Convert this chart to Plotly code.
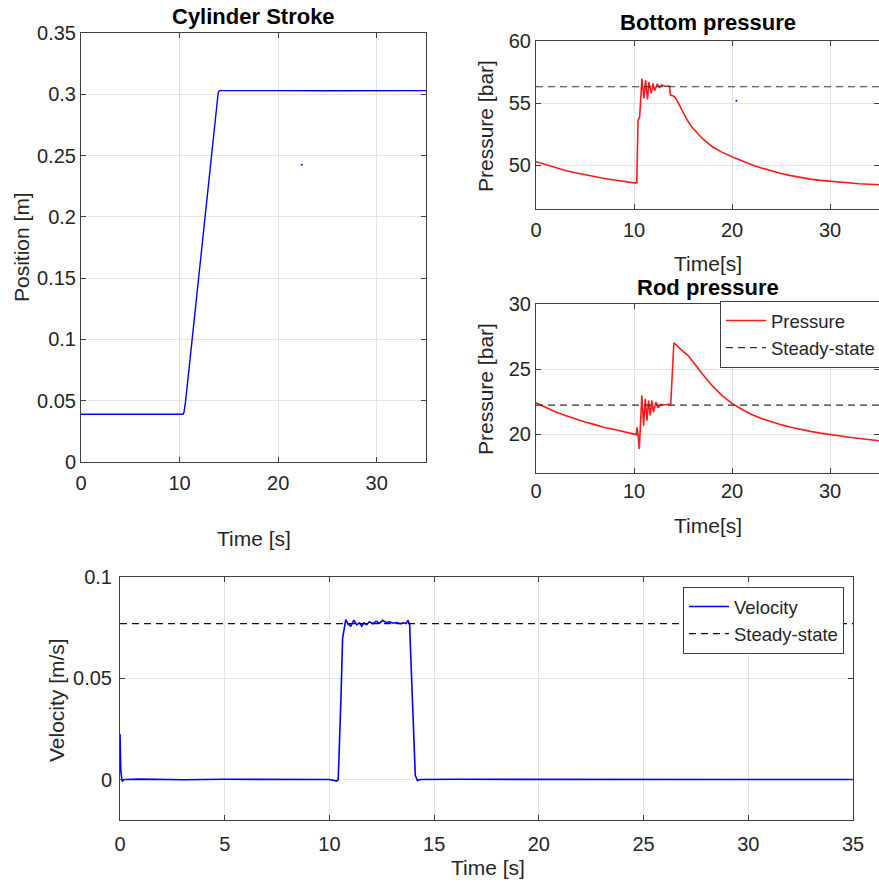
import plotly.graph_objects as go

W, H = 879, 891

# ---------------- data ----------------
# Cylinder stroke (position)
pos_t = [0, 2, 4, 6, 8, 10, 10.35, 10.45, 10.6, 11.0, 12.0, 13.0, 13.6, 13.8, 13.92, 14.05, 16, 20, 25, 30, 35]
pos_m = [0.039, 0.0388, 0.039, 0.0389, 0.039, 0.0389, 0.039, 0.0405, 0.049, 0.079, 0.156, 0.232, 0.2785,
         0.2945, 0.3015, 0.303, 0.3028, 0.303, 0.3029, 0.303, 0.303]
pos_stray_t = [22.4]
pos_stray_m = [0.2425]

# Bottom pressure
pb_t = [0, 1, 2, 3, 4, 5, 6, 7, 8, 9, 10.0, 10.28, 10.41, 10.58, 10.81, 11.01, 11.18, 11.38, 11.52, 11.76,
        11.93, 12.1, 12.37, 12.6, 12.84, 13.2, 13.62, 13.72, 14.06, 14.3, 14.6, 15.0, 15.5, 16.0, 16.5, 17.0,
        18.0, 19.0, 20.0, 21.0, 22.0, 23.0, 24.0, 25.0, 26.0, 27.0, 28.0, 29.0, 30.0, 31.0, 32.0, 33.0, 34.0, 35.0]
pb_p = [50.3, 50.05, 49.82, 49.6, 49.42, 49.25, 49.1, 48.95, 48.83, 48.7, 48.6, 48.6, 53.6, 53.9, 56.99, 55.38,
        56.85, 55.3, 56.7, 55.8, 56.6, 56.0, 56.55, 56.27, 56.47, 56.35, 56.38, 55.65, 55.57, 55.35, 54.9, 54.25,
        53.55, 53.0, 52.55, 52.15, 51.5, 51.05, 50.7, 50.35, 50.05, 49.8, 49.55, 49.35, 49.18, 49.03, 48.9, 48.8,
        48.72, 48.65, 48.58, 48.53, 48.49, 48.45]
pb_steady = 56.32
pb_stray_t = [20.45]
pb_stray_p = [55.2]

# Rod pressure
pr_t = [0, 1, 2, 3, 4, 5, 6, 7, 8, 9, 10.24, 10.3, 10.44, 10.54, 10.64, 10.8, 10.98, 11.15, 11.32, 11.49, 11.66,
        11.82, 11.99, 12.23, 12.46, 12.73, 13.2, 13.58, 13.75, 14.07, 14.6, 15.0, 15.5, 16.0, 16.5, 17.0, 17.5,
        18.0, 19.0, 20.0, 21.0, 22.0, 23.0, 24.0, 25.0, 26.0, 27.0, 28.0, 29.0, 30.0, 31.0, 32.0, 33.0, 34.0, 35.0]
pr_p = [22.4, 22.02, 21.7, 21.42, 21.16, 20.93, 20.72, 20.5, 20.35, 20.15, 19.95, 20.51, 19.8, 18.84, 20.78,
        22.97, 20.64, 22.71, 21.03, 22.58, 21.42, 22.58, 21.68, 22.45, 22.01, 22.27, 22.25, 22.32, 22.3, 27.02,
        26.6, 26.35, 26.05, 25.6, 25.1, 24.6, 24.15, 23.7, 22.95, 22.35, 21.9, 21.5, 21.2, 20.95, 20.72, 20.52,
        20.35, 20.2, 20.07, 19.95, 19.85, 19.75, 19.65, 19.56, 19.48]
pr_steady = 22.22

# Velocity
vel_t = [0, 0.04, 0.1, 0.2, 1, 3, 5, 7, 9, 10.0, 10.35, 10.42, 10.55, 10.63, 10.7, 10.78, 10.9, 11.02, 11.17,
         11.3, 11.43, 11.54, 11.65, 11.78, 11.91, 12.07, 12.23, 12.39, 12.55, 12.71, 12.87, 13.06, 13.22,
         13.38, 13.54, 13.67, 13.75, 13.83, 13.88, 14.0, 14.1, 14.2, 14.35, 16, 20, 25, 30, 35]
vel_v = [0.0225, 0.004, -0.001, 0.0, 0.0002, -0.0001, 0.0001, 0.0, 0.0001, 0.0, -0.0008, 0.0, 0.04, 0.07, 0.074,
         0.079, 0.0766, 0.0758, 0.0787, 0.0764, 0.0774, 0.0758, 0.0774, 0.0764, 0.0779, 0.0769, 0.0782,
         0.0772, 0.0786, 0.0775, 0.0779, 0.0772, 0.0775, 0.0769, 0.0774, 0.077, 0.0786, 0.0766, 0.062,
         0.03, 0.002, -0.0005, 0.0, 0.0001, 0.0, 0.0001, 0.0, 0.0]
vel_steady = 0.077

t_span = [0, 35]

# tick labels
stroke_ticks = [0, 0.05, 0.1, 0.15, 0.2, 0.25, 0.3, 0.35]
stroke_ticktext = ["0", "0.05", "0.1", "0.15", "0.2", "0.25", "0.3", "0.35"]
p_top_ticks = [50, 55, 60]
p_rod_ticks = [20, 25, 30]
vel_ticks = [0, 0.05, 0.1]
vel_ticktext = ["0", "0.05", "0.1"]
t_ticks_top = [0, 10, 20, 30]
t_ticks_bottom = [0, 5, 10, 15, 20, 25, 30, 35]

# ---------------- style ----------------
FONT = "Liberation Sans, Arial, sans-serif"
TXT = "#262626"
AX = "#404040"
GRID = "#e3e3e3"
RED = "#ff1a1a"
BLUE = "#0000ff"
DASH = "7px,5px"


def px_x(p):
    return p / W


def px_y(p):
    return 1 - p / H


fig = go.Figure()

# Stroke
fig.add_trace(go.Scatter(x=pos_t, y=pos_m, mode="lines", line=dict(color=BLUE, width=1.4),
                         xaxis="x", yaxis="y", showlegend=False))
fig.add_trace(go.Scatter(x=pos_stray_t, y=pos_stray_m, mode="markers", marker=dict(color=BLUE, size=2),
                         xaxis="x", yaxis="y", showlegend=False))

# Bottom pressure
fig.add_trace(go.Scatter(x=pb_t, y=pb_p, mode="lines", line=dict(color=RED, width=1.6),
                         xaxis="x2", yaxis="y2", showlegend=False))
fig.add_trace(go.Scatter(x=t_span, y=[pb_steady, pb_steady], mode="lines",
                         line=dict(color="#333333", width=1.1, dash=DASH),
                         xaxis="x2", yaxis="y2", showlegend=False))
fig.add_trace(go.Scatter(x=pb_stray_t, y=pb_stray_p, mode="markers", marker=dict(color=BLUE, size=2),
                         xaxis="x2", yaxis="y2", showlegend=False))

# Rod pressure
fig.add_trace(go.Scatter(x=pr_t, y=pr_p, mode="lines", name="Pressure", line=dict(color=RED, width=1.6),
                         xaxis="x3", yaxis="y3", legend="legend"))
fig.add_trace(go.Scatter(x=t_span, y=[pr_steady, pr_steady], mode="lines", name="Steady-state",
                         line=dict(color="#333333", width=1.1, dash=DASH),
                         xaxis="x3", yaxis="y3", legend="legend"))

# Velocity
fig.add_trace(go.Scatter(x=vel_t, y=vel_v, mode="lines", name="Velocity", line=dict(color=BLUE, width=1.6),
                         xaxis="x4", yaxis="y4", legend="legend2"))
fig.add_trace(go.Scatter(x=t_span, y=[vel_steady, vel_steady], mode="lines", name="Steady-state",
                         line=dict(color="#111111", width=1.1, dash=DASH),
                         xaxis="x4", yaxis="y4", legend="legend2"))


def axis_common(**kw):
    d = dict(showline=True, linecolor=AX, linewidth=1, mirror="ticks", ticks="inside", ticklen=5,
             tickcolor=AX, tickwidth=1, showgrid=True, gridcolor=GRID, gridwidth=1, zeroline=False,
             tickfont=dict(family=FONT, size=20, color=TXT), fixedrange=True, automargin=False)
    d.update(kw)
    return d


fig.update_layout(
    width=W, height=H, margin=dict(l=0, r=0, t=0, b=0, pad=0, autoexpand=False),
    paper_bgcolor="white", plot_bgcolor="white",
    font=dict(family=FONT, color=TXT),
    xaxis=axis_common(domain=[px_x(81), px_x(426)], range=[0, 35], tickvals=t_ticks_top, anchor="y",
                      ticklabelstandoff=3),
    yaxis=axis_common(domain=[px_y(462), px_y(33)], range=[0, 0.35], tickvals=stroke_ticks,
                      ticktext=stroke_ticktext, anchor="x"),
    xaxis2=axis_common(domain=[px_x(536), 1.0], range=[0, 35], tickvals=t_ticks_top, anchor="y2",
                       ticklabelstandoff=3),
    yaxis2=axis_common(domain=[px_y(209), px_y(41)], range=[46.5, 60], tickvals=p_top_ticks, anchor="x2"),
    xaxis3=axis_common(domain=[px_x(536), 1.0], range=[0, 35], tickvals=t_ticks_top, anchor="y3"),
    yaxis3=axis_common(domain=[px_y(473), px_y(304)], range=[17, 30], tickvals=p_rod_ticks, anchor="x3"),
    xaxis4=axis_common(domain=[px_x(120), px_x(853)], range=[0, 35], tickvals=t_ticks_bottom, anchor="y4",
                       ticklabelstandoff=6),
    yaxis4=axis_common(domain=[px_y(820), px_y(577)], range=[-0.02, 0.1], tickvals=vel_ticks,
                       ticktext=vel_ticktext, anchor="x4", ticklabelstandoff=3),
    legend=dict(x=px_x(720), y=px_y(301), xanchor="left", yanchor="top", bgcolor="white",
                bordercolor=AX, borderwidth=1, font=dict(family=FONT, size=18.5, color=TXT),
                tracegroupgap=0, itemwidth=40),
    legend2=dict(x=px_x(683), y=px_y(587), xanchor="left", yanchor="top", bgcolor="white",
                 bordercolor=AX, borderwidth=1, font=dict(family=FONT, size=18.5, color=TXT),
                 tracegroupgap=0, itemwidth=40),
)

annotations = [
    ("<b>Cylinder Stroke</b>", 253.5, 16, 0, 22),
    ("<b>Bottom pressure</b>", 708, 22, 0, 22),
    ("<b>Rod pressure</b>", 708, 287, 0, 22),
    ("Position [m]", 22, 247, -90, 21),
    ("Time [s]", 253.5, 538, 0, 21),
    ("Pressure [bar]", 485, 126, -90, 21),
    ("Time[s]", 708, 263, 0, 21),
    ("Pressure [bar]", 485, 389, -90, 21),
    ("Time[s]", 708, 525, 0, 21),
    ("Velocity [m/s]", 56, 700, -90, 21),
    ("Time [s]", 488, 867, 0, 21),
]
for text, ax_, ay_, ang, sz in annotations:
    fig.add_annotation(text=text, x=px_x(ax_), y=px_y(ay_), xref="paper", yref="paper",
                       xanchor="center", yanchor="middle", showarrow=False, textangle=ang,
                       font=dict(family=FONT, size=sz, color=TXT if "<b>" not in text else "#000000"))

fig.write_html("out.html")
